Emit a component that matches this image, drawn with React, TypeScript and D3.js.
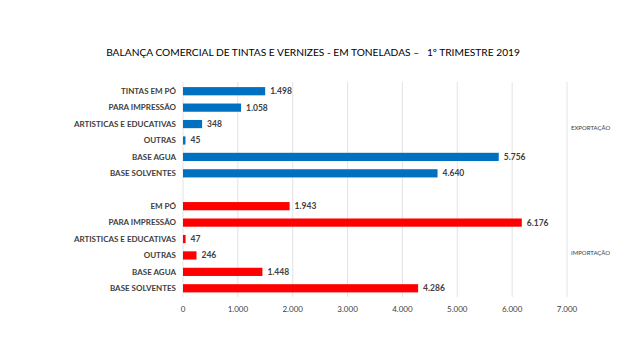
import React from "react";
import * as d3 from "d3";

const exportCategories = ["TINTAS EM PÓ", "PARA IMPRESSÃO", "ARTISTICAS E EDUCATIVAS", "OUTRAS", "BASE AGUA", "BASE SOLVENTES"];
const exportValues = [1498, 1058, 348, 45, 5756, 4640];
const importCategories = ["EM PÓ", "PARA IMPRESSÃO", "ARTISTICAS E EDUCATIVAS", "OUTRAS", "BASE AGUA", "BASE SOLVENTES"];
const importValues = [1943, 6176, 47, 246, 1448, 4286];
const xTicks = [0, 1000, 2000, 3000, 4000, 5000, 6000, 7000];
const title = "BALANÇA COMERCIAL DE TINTAS E VERNIZES - EM TONELADAS –   1º TRIMESTRE 2019";
const groupLabels = ["EXPORTAÇÃO", "IMPORTAÇÃO"];

const fmt = (v: number) => d3.format(",")(v).replace(/,/g, ".");

export default function App() {
  const W = 640, H = 360;
  const rows = [
    ...exportCategories.map((c, i) => ({ key: "e" + i, label: c, value: exportValues[i], color: "#0070C0" })),
    { key: "gap", label: "", value: null as number | null, color: "" },
    ...importCategories.map((c, i) => ({ key: "i" + i, label: c, value: importValues[i], color: "#FF0000" })),
  ];
  const x = d3.scaleLinear().domain([0, 7000]).range([183, 567]);
  const y = d3.scaleBand<string>().domain(rows.map(r => r.key)).range([83, 296.5]).paddingInner(0.5).paddingOuter(0.25);
  const font = "Lato, 'Open Sans', sans-serif";
  const text = "#404040";
  return (
    <svg width={W} height={H} style={{ position: "absolute", left: 0, top: 0, background: "#fff" }} fontFamily={font}>
      <rect width={W} height={H} fill="#fff" />
      <text x={313} y={56} textAnchor="middle" fontSize={10.2} fill="#000" style={{ whiteSpace: "pre" }}>{title}</text>
      {xTicks.map(t => (
        <g key={t}>
          <line x1={x(t)} x2={x(t)} y1={82} y2={297} stroke="#e3e3e3" strokeWidth={1} />
          <text x={x(t)} y={312} textAnchor="middle" fontSize={8} fill={text}>{fmt(t)}</text>
        </g>
      ))}
      {rows.filter(r => r.value !== null).map(r => {
        const yy = y(r.key)!;
        const bh = y.bandwidth();
        return (
          <g key={r.key}>
            <text x={176} y={yy + bh / 2} dy="0.35em" textAnchor="end" fontSize={8} fontWeight="bold" fill={text}>{r.label}</text>
            <rect x={x(0)} y={yy} width={x(r.value as number) - x(0)} height={bh} fill={r.color} />
            <text x={x(r.value as number) + 5} y={yy + bh / 2} dy="0.35em" fontSize={8.5} fontWeight="bold" fill={text}>{fmt(r.value as number)}</text>
          </g>
        );
      })}
      <text x={571} y={130} fontSize={6} fill={text}>{groupLabels[0]}</text>
      <text x={571} y={255} fontSize={6} fill={text}>{groupLabels[1]}</text>
    </svg>
  );
}
